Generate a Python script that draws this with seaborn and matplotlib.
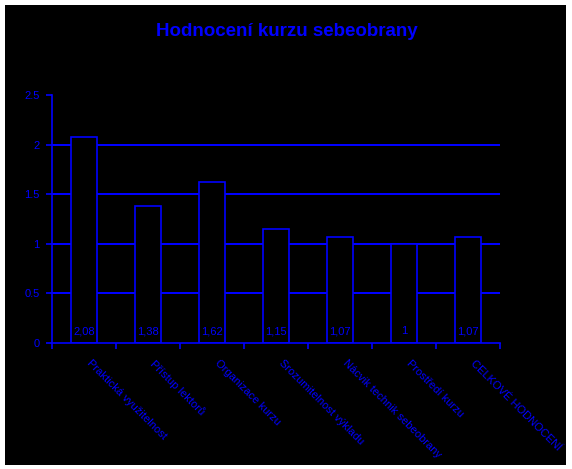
import matplotlib
matplotlib.use("Agg")
import matplotlib.pyplot as plt
import seaborn as sns
import pandas as pd
from matplotlib.patches import Rectangle

categories = [
    "Praktická využitelnost",
    "Přístup lektorů",
    "Organizace kurzu",
    "Srozumitelnost výkladu",
    "Nácvik technik sebeobrany",
    "Prostředí kurzu",
    "CELKOVÉ HODNOCENÍ",
]
values = [2.08, 1.38, 1.62, 1.15, 1.07, 1, 1.07]
yticks = [0, 0.5, 1, 1.5, 2, 2.5]
ytick_labels = ["0", "0.5", "1", "1.5", "2", "2.5"]
title = "Hodnocení kurzu sebeobrany"

BLUE = "#0000FF"
LW = 1.2

sns.set_style("dark")
plt.rcParams["font.family"] = ["Liberation Sans", "DejaVu Sans"]

df = pd.DataFrame({"kategorie": categories, "hodnota": values})

fig = plt.figure(figsize=(5.72, 4.69), dpi=100, facecolor="white")
fig.patches.append(Rectangle((5 / 572, 1 - 465 / 469), 561 / 572, 460 / 469,
                             transform=fig.transFigure, facecolor="black",
                             edgecolor="none", zorder=-10))
ax = fig.add_axes([52 / 572, 1 - 343 / 469, 448 / 572, 248 / 469])
ax.set_facecolor("black")

sns.barplot(data=df, x="kategorie", y="hodnota", color="black",
            edgecolor=BLUE, linewidth=LW, width=0.42, ax=ax, zorder=3,
            saturation=1)

for g in yticks[1:-1]:
    ax.axhline(g, color=BLUE, linewidth=LW, zorder=1, antialiased=False)

ax.set_xlim(-0.5, len(categories) - 0.5)
ax.set_ylim(0, 2.5)
ax.set_yticks(yticks)
ax.set_yticklabels(ytick_labels)

ax.set_xticks([i - 0.5 for i in range(len(categories) + 1)])
ax.set_xticklabels([])
ax.set_xticks([i + 0.12 for i in range(len(categories))], minor=True)
ax.set_xticklabels(categories, minor=True, rotation=-45, ha="left",
                   va="top", rotation_mode="anchor")
ax.tick_params(axis="x", which="major", direction="out", length=4,
               width=LW, color=BLUE, bottom=True)
ax.tick_params(axis="x", which="minor", length=0, pad=11, labelsize=8,
               labelcolor=BLUE, bottom=True)
ax.tick_params(axis="y", direction="out", length=4, width=LW, color=BLUE,
               labelsize=8, labelcolor=BLUE, left=True, pad=5)

for s in ["top", "right"]:
    ax.spines[s].set_visible(False)
for s in ["left", "bottom"]:
    ax.spines[s].set_visible(True)
    ax.spines[s].set_color(BLUE)
    ax.spines[s].set_linewidth(LW)
    ax.spines[s].set_zorder(4)

ax.set_xlabel("")
ax.set_ylabel("")
ax.grid(False)

for patch, v in zip(ax.patches, values):
    cx = patch.get_x() + patch.get_width() / 2
    ax.text(cx, 0.12, f"{v:g}".replace(".", ","), color=BLUE, fontsize=8,
            ha="center", va="center", zorder=5)

fig.text(287 / 572, 1 - 32 / 469, title, color=BLUE, fontsize=13.5,
         fontweight="bold", ha="center", va="center")

fig.savefig("out.png", dpi=100, facecolor="white")
